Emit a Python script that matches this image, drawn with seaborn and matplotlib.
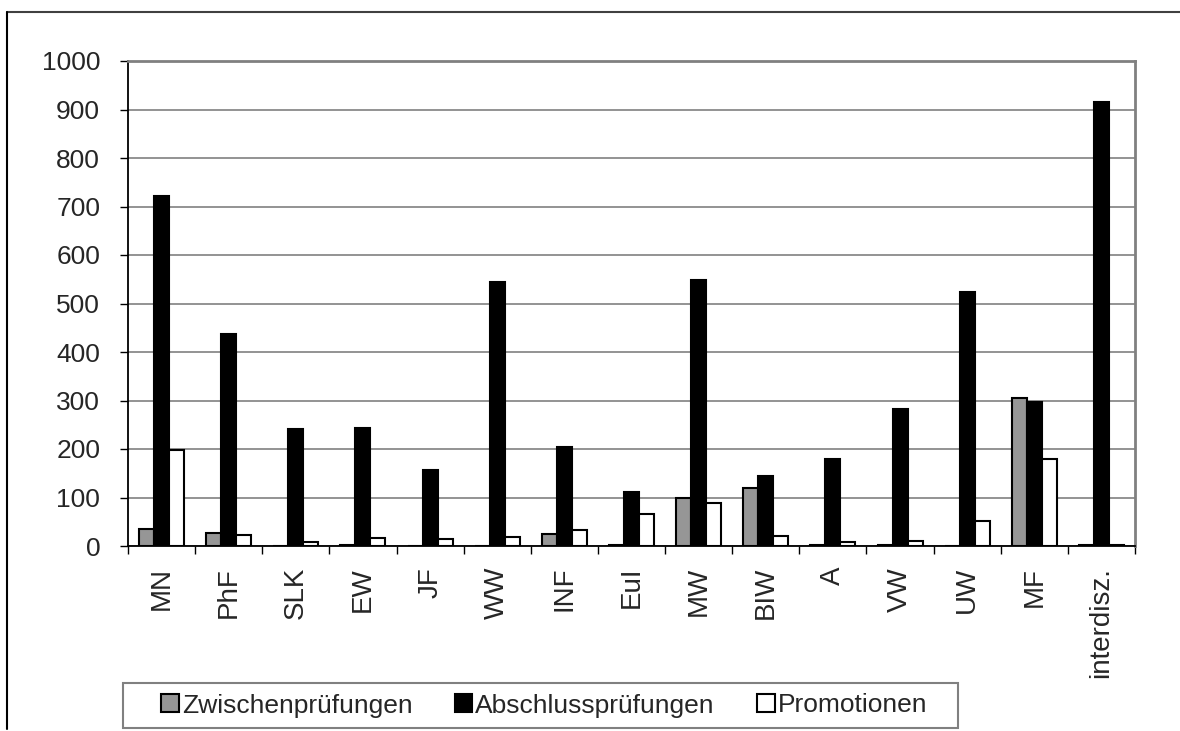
import numpy as np
import pandas as pd
import matplotlib
matplotlib.use('Agg')
import matplotlib.pyplot as plt
from matplotlib.lines import Line2D
from matplotlib.patches import Rectangle
import seaborn as sns

# Data
faecher = ['MN', 'PhF', 'SLK', 'EW', 'JF', 'WW', 'INF', 'EuI', 'MW', 'BIW',
           'A', 'VW', 'UW', 'MF', 'interdisz.']
zwischen = [36, 27, 0, 2, 0, 0, 25, 2, 98, 119, 2, 2, 0, 305, 2]
abschluss = [722, 438, 241, 243, 157, 545, 204, 112, 549, 144, 179, 282, 524, 297, 915]
promotionen = [198, 23, 8, 17, 14, 18, 33, 66, 89, 21, 8, 10, 52, 179, 2]
serien = ['Zwischenprüfungen', 'Abschlussprüfungen', 'Promotionen']
farben = ['#969696', '#000000', '#ffffff']

df = pd.DataFrame({
    'Fach': faecher * 3,
    'Serie': np.repeat(serien, len(faecher)),
    'Anzahl': zwischen + abschluss + promotionen,
})

sns.set_style('white')
plt.rcParams['font.family'] = ['Liberation Sans', 'DejaVu Sans']

W, H = 1180, 731
fig = plt.figure(figsize=(W / 100, H / 100), dpi=100)
ax = fig.add_axes([128 / W, 1 - 546 / H, (1135 - 128) / W, (546 - 61) / H])

sns.barplot(data=df, x='Fach', y='Anzahl', hue='Serie', order=faecher,
            hue_order=serien, palette=farben, width=0.67, gap=0,
            edgecolor='black', linewidth=1.5, saturation=1, ax=ax, zorder=3)

ax.set_ylim(0, 1000)
ax.set_xlim(-0.5, len(faecher) - 0.5)
ax.set_yticks(np.arange(0, 1001, 100))
ax.yaxis.grid(True, color='#808080', linewidth=1.2, zorder=0)
ax.set_axisbelow(True)
ax.set_xlabel('')
ax.set_ylabel('')

# tick marks at the category borders, labels centred
ax.set_xticks(np.arange(len(faecher)))
ax.set_xticklabels(faecher, rotation=90, fontsize=20)
ax.set_xticks(np.arange(-0.5, len(faecher), 1), minor=True)
ax.tick_params(axis='x', which='major', length=0, pad=15)
ax.tick_params(axis='x', which='minor', length=6, width=1, color='black', direction='out', bottom=True)
ax.tick_params(axis='y', length=6, width=1, color='black', direction='out', left=True, labelsize=19, pad=14)

for s in ['left', 'bottom']:
    ax.spines[s].set_color('black')
    ax.spines[s].set_linewidth(1.3)
for s in ['top', 'right']:
    ax.spines[s].set_visible(True)
    ax.spines[s].set_color('#808080')
    ax.spines[s].set_linewidth(2)

# legend without its own frame, the box is drawn separately
ax.get_legend().remove()
handles = [Rectangle((0, 0), 1, 1, facecolor=c, edgecolor='black', linewidth=1.5) for c in farben]
fig.legend(handles, serien, loc='center', bbox_to_anchor=(544 / W, 1 - 705.5 / H), ncol=3,
           fontsize=19, frameon=False, handlelength=0.68, handleheight=0.68,
           handletextpad=0.1, columnspacing=1.6, borderpad=0)
fig.add_artist(Rectangle((123 / W, 1 - 728 / H), (958 - 123) / W, 45 / H,
                         transform=fig.transFigure, facecolor='none',
                         edgecolor='#808080', linewidth=1.5))

# outer chart frame (top and left edges visible)
fig.add_artist(Line2D([7 / W, 1], [1 - 12 / H, 1 - 12 / H], color='#404040', linewidth=1.5))
fig.add_artist(Line2D([7 / W, 7 / W], [1 - 12 / H, 1 - 729 / H], color='black', linewidth=1.5))

fig.savefig('out.png', dpi=100)
